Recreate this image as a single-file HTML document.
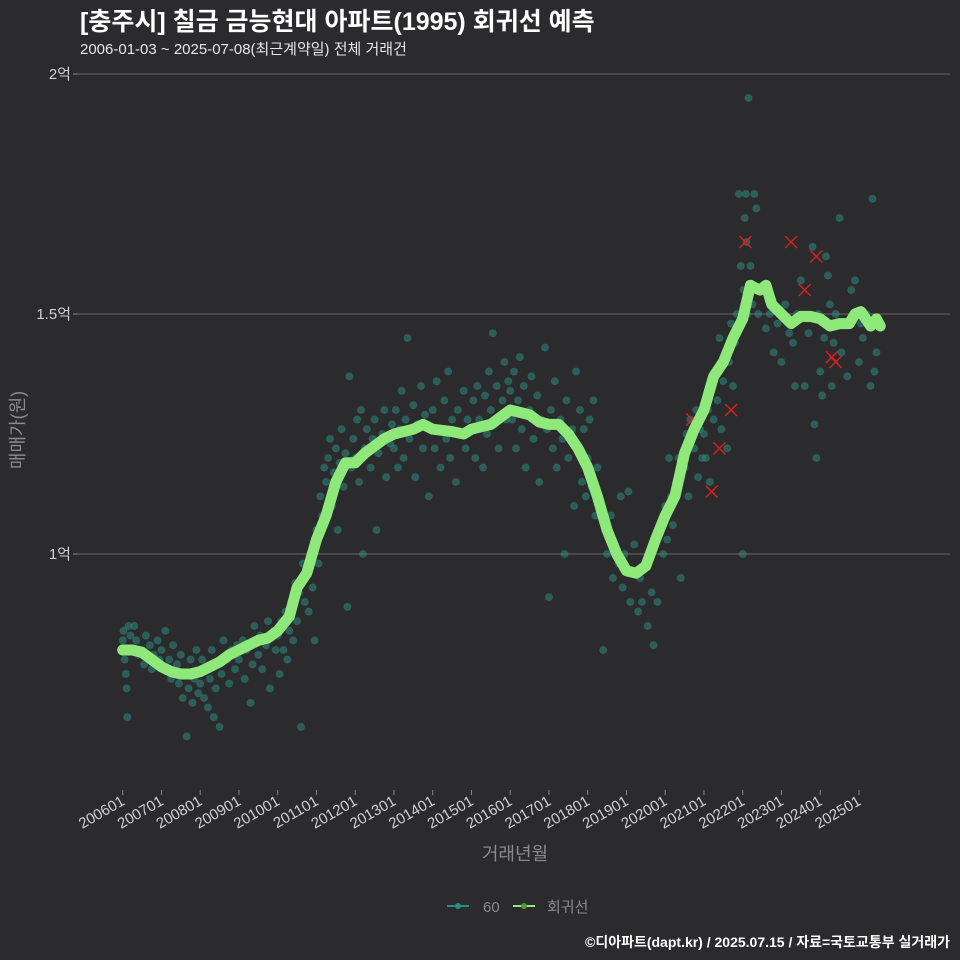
<!DOCTYPE html>
<html><head><meta charset="utf-8"><style>
html,body{margin:0;padding:0;background:#2b2b2d;}
svg{display:block;font-family:"Liberation Sans","Noto Sans CJK KR",sans-serif;}
</style></head><body>
<svg id="chart" width="960" height="960" viewBox="0 0 960 960" xmlns="http://www.w3.org/2000/svg">
<rect width="960" height="960" fill="#2b2b2d"/>
<text x="80" y="30" fill="#ffffff" font-size="25" font-weight="bold">[충주시] 칠금 금능현대 아파트(1995) 회귀선 예측</text>
<text x="80" y="54" fill="#e6e6e6" font-size="15">2006-01-03 ~ 2025-07-08(최근계약일) 전체 거래건</text>
<g id="grid"></g>
<g id="points"></g>
<g id="outliers"></g>
<g id="line"></g>
<g id="xaxis"></g>
<text x="515" y="860" fill="#8a8a8a" font-size="18" text-anchor="middle">거래년월</text>
<text transform="translate(24,430) rotate(-90)" fill="#8a8a8a" font-size="18" text-anchor="middle">매매가(원)</text>
<g>
<g>
<line x1="447" y1="906" x2="469" y2="906" stroke="#2a8a86" stroke-width="2"/>
<circle cx="458" cy="906" r="3" fill="#2a8a86"/>
<text x="483" y="912" fill="#8a8a8a" font-size="15">60</text></g>
<g>
<line x1="513" y1="906" x2="535" y2="906" stroke="#8ee87a" stroke-width="2"/>
<circle cx="524" cy="906" r="3" fill="#4d9a45"/>
<text x="547" y="912" fill="#8a8a8a" font-size="15">회귀선</text></g>
</g>
<text x="950" y="947" fill="#ffffff" font-size="14" font-weight="bold" text-anchor="end">©디아파트(dapt.kr) / 2025.07.15 / 자료=국토교통부 실거래가</text>
</svg>
<script>
const yTicks=[1,1.5,2];
const yTickLabels=["1억","1.5억","2억"];
const xTicks=[2006,2007,2008,2009,2010,2011,2012,2013,2014,2015,2016,2017,2018,2019,2020,2021,2022,2023,2024,2025];
const xTickLabels=["200601","200701","200801","200901","201001","201101","201201","201301","201401","201501","201601","201701","201801","201901","202001","202101","202201","202301","202401","202501"];
const lineT=[2006.0,2006.25,2006.5,2006.75,2007.0,2007.25,2007.5,2007.75,2008.0,2008.25,2008.5,2008.75,2009.0,2009.25,2009.5,2009.75,2010.0,2010.3,2010.5,2010.75,2011.0,2011.25,2011.5,2011.75,2012.0,2012.25,2012.5,2012.75,2013.0,2013.5,2013.75,2014.0,2014.5,2014.8,2015.0,2015.5,2015.75,2016.0,2016.5,2016.75,2017.0,2017.25,2017.5,2017.75,2018.0,2018.25,2018.5,2018.75,2019.0,2019.25,2019.5,2019.75,2020.0,2020.25,2020.5,2020.75,2021.0,2021.25,2021.5,2021.75,2022.0,2022.2,2022.3,2022.45,2022.6,2022.75,2023.0,2023.25,2023.5,2023.75,2024.0,2024.25,2024.5,2024.75,2024.9,2025.05,2025.3,2025.45,2025.55];
const lineV=[0.80,0.80,0.795,0.78,0.765,0.755,0.75,0.75,0.755,0.765,0.775,0.79,0.80,0.81,0.82,0.825,0.84,0.87,0.93,0.96,1.03,1.08,1.15,1.19,1.19,1.21,1.225,1.24,1.25,1.26,1.27,1.26,1.255,1.25,1.26,1.27,1.285,1.30,1.29,1.275,1.27,1.27,1.25,1.22,1.18,1.12,1.05,1.00,0.965,0.96,0.975,1.03,1.08,1.12,1.21,1.26,1.30,1.37,1.40,1.45,1.49,1.56,1.555,1.55,1.56,1.52,1.50,1.48,1.495,1.495,1.49,1.475,1.48,1.48,1.50,1.505,1.475,1.49,1.475];
const pointT=[2006.0,2006.02,2006.05,2006.08,2006.1,2006.12,2006.15,2006.2,2006.25,2006.3,2006.35,2006.4,2006.5,2006.55,2006.6,2006.7,2006.75,2006.8,2006.9,2006.95,
2007.0,2007.05,2007.1,2007.2,2007.25,2007.3,2007.4,2007.45,2007.5,2007.55,2007.6,2007.65,2007.7,2007.75,2007.8,2007.85,2007.9,2007.95,
2008.0,2008.05,2008.1,2008.15,2008.2,2008.25,2008.3,2008.35,2008.4,2008.45,2008.5,2008.55,2008.6,2008.7,2008.75,2008.8,2008.9,2008.95,
2009.0,2009.1,2009.15,2009.2,2009.3,2009.35,2009.4,2009.5,2009.55,2009.6,2009.7,2009.75,2009.8,2009.9,2009.95,
2010.0,2010.05,2010.1,2010.15,2010.2,2010.25,2010.3,2010.35,2010.4,2010.45,2010.5,2010.55,2010.6,2010.65,2010.7,2010.75,2010.8,2010.85,2010.9,2010.95,
2011.0,2011.05,2011.1,2011.15,2011.2,2011.25,2011.3,2011.35,2011.4,2011.45,2011.5,2011.55,2011.6,2011.65,2011.7,2011.75,2011.8,2011.85,2011.9,2011.95,
2012.0,2012.05,2012.1,2012.15,2012.2,2012.25,2012.3,2012.4,2012.45,2012.5,2012.55,2012.6,2012.7,2012.75,2012.8,2012.9,2012.95,
2013.0,2013.05,2013.1,2013.15,2013.2,2013.25,2013.3,2013.35,2013.4,2013.5,2013.55,2013.6,2013.7,2013.75,2013.8,2013.9,2013.95,
2014.0,2014.05,2014.1,2014.15,2014.2,2014.3,2014.35,2014.4,2014.45,2014.5,2014.6,2014.65,2014.7,2014.8,2014.85,2014.9,
2015.0,2015.05,2015.1,2015.15,2015.2,2015.3,2015.35,2015.4,2015.45,2015.5,2015.55,2015.6,2015.65,2015.7,2015.8,2015.85,2015.9,2015.95,
2016.0,2016.05,2016.1,2016.15,2016.2,2016.25,2016.3,2016.35,2016.4,2016.5,2016.55,2016.6,2016.7,2016.75,2016.8,2016.9,2016.95,
2017.0,2017.05,2017.1,2017.15,2017.2,2017.3,2017.35,2017.4,2017.45,2017.5,2017.6,2017.65,2017.7,2017.75,2017.8,2017.85,2017.9,2017.95,
2018.0,2018.05,2018.1,2018.15,2018.2,2018.25,2018.3,2018.4,2018.45,2018.5,2018.6,2018.65,2018.7,2018.8,2018.85,2018.9,2018.95,
2019.0,2019.05,2019.1,2019.15,2019.2,2019.3,2019.35,2019.4,2019.5,2019.55,2019.6,2019.65,2019.7,2019.75,2019.8,2019.9,2019.95,
2020.0,2020.05,2020.1,2020.15,2020.2,2020.3,2020.35,2020.4,2020.5,2020.55,2020.6,2020.65,2020.75,2020.8,2020.85,2020.9,2020.95,
2021.0,2021.05,2021.1,2021.15,2021.2,2021.25,2021.3,2021.35,2021.4,2021.45,2021.5,2021.55,2021.6,2021.65,2021.7,2021.75,2021.8,2021.85,2021.9,2021.95,
2022.0,2022.02,2022.05,2022.08,2022.1,2022.12,2022.15,2022.2,2022.25,2022.3,2022.35,2022.4,2022.5,2022.6,2022.7,2022.8,2022.9,
2023.0,2023.1,2023.2,2023.3,2023.35,2023.4,2023.5,2023.6,2023.65,2023.7,2023.8,2023.85,2023.9,2023.95,
2024.0,2024.05,2024.1,2024.15,2024.2,2024.25,2024.3,2024.35,2024.4,2024.5,2024.55,2024.6,2024.7,2024.8,2024.9,
2025.0,2025.05,2025.1,2025.2,2025.3,2025.35,2025.4,2025.45,2025.5];
const pointV=[0.82,0.84,0.78,0.75,0.72,0.66,0.85,0.83,0.80,0.85,0.82,0.79,0.80,0.77,0.83,0.81,0.76,0.79,0.82,0.78,
0.80,0.76,0.84,0.78,0.74,0.81,0.77,0.73,0.79,0.70,0.75,0.62,0.72,0.78,0.69,0.74,0.80,0.71,
0.73,0.78,0.70,0.76,0.68,0.74,0.80,0.66,0.72,0.77,0.64,0.75,0.82,0.78,0.73,0.80,0.76,0.81,
0.78,0.82,0.74,0.80,0.69,0.77,0.85,0.79,0.83,0.76,0.81,0.86,0.72,0.84,0.80,
0.83,0.75,0.86,0.80,0.88,0.78,0.84,0.90,0.82,0.94,0.86,0.92,0.64,0.98,0.90,0.96,0.88,1.00,0.93,0.82,
1.05,0.98,1.12,1.08,1.18,1.15,1.20,1.24,1.10,1.17,1.22,1.05,1.19,1.26,1.14,1.21,0.89,1.37,1.18,1.24,
1.20,1.28,1.15,1.30,1.00,1.22,1.26,1.18,1.24,1.28,1.05,1.21,1.25,1.30,1.16,1.23,1.27,
1.22,1.30,1.18,1.26,1.34,1.20,1.28,1.45,1.24,1.31,1.16,1.27,1.35,1.22,1.29,1.12,1.26,
1.30,1.22,1.36,1.26,1.18,1.32,1.24,1.38,1.20,1.28,1.15,1.30,1.25,1.34,1.22,1.28,
1.26,1.32,1.20,1.35,1.28,1.18,1.33,1.25,1.38,1.30,1.46,1.27,1.35,1.22,1.32,1.40,1.28,1.36,
1.34,1.28,1.38,1.22,1.32,1.41,1.26,1.35,1.18,1.30,1.37,1.24,1.33,1.15,1.28,1.43,1.26,
0.91,1.30,1.22,1.36,1.18,1.28,1.24,1.00,1.32,1.20,1.26,1.10,1.38,1.22,1.30,1.15,1.26,1.12,
1.20,1.28,1.14,1.32,1.08,1.18,1.10,0.80,1.05,1.00,1.08,0.95,1.02,0.98,1.12,0.93,1.00,
0.97,1.13,0.90,0.96,1.02,0.88,0.95,0.90,0.98,0.85,1.00,0.92,0.81,1.04,0.90,1.06,1.00,
1.10,1.03,1.20,1.12,1.06,1.15,1.20,0.95,1.18,1.25,1.12,1.28,1.22,1.30,1.16,1.26,1.20,
1.25,1.20,1.30,1.15,1.35,1.28,1.38,1.32,1.45,1.26,1.36,1.42,1.22,1.40,1.48,1.35,1.44,1.50,1.75,1.60,
1.00,1.55,1.70,1.75,1.65,1.50,1.95,1.60,1.52,1.75,1.72,1.50,1.55,1.47,1.50,1.42,1.48,
1.40,1.52,1.46,1.44,1.35,1.50,1.57,1.35,1.49,1.46,1.64,1.27,1.20,1.50,
1.38,1.33,1.45,1.62,1.58,1.52,1.35,1.44,1.50,1.70,1.42,1.48,1.37,1.55,1.57,
1.40,1.48,1.45,1.50,1.35,1.74,1.38,1.42,1.49];
const outT=[2020.7,2021.2,2021.4,2021.7,2022.07,2023.25,2023.9,2023.6,2024.3,2024.4];
const outV=[1.28,1.13,1.22,1.30,1.65,1.65,1.62,1.55,1.41,1.40];

const NS="http://www.w3.org/2000/svg";
function xS(t){return 122.7+(t-2006)*38.75;}
function yS(v){return 554-(v-1)*480;}
function mk(tag,attrs,parent){const e=document.createElementNS(NS,tag);for(const k in attrs)e.setAttribute(k,attrs[k]);parent.appendChild(e);return e;}

const grid=document.getElementById('grid');
yTicks.forEach((v,i)=>{
  const l=mk('line',{x1:77,x2:950,y1:yS(v),y2:yS(v),stroke:'#6a6a6a','stroke-width':1},grid);
  
  
  const tk=mk('line',{x1:73,x2:77,y1:yS(v),y2:yS(v),stroke:'#888','stroke-width':1},grid);
  
  
  const t=mk('text',{x:71,y:yS(v)+5,fill:'#d0d0d0','font-size':15,'text-anchor':'end'},grid);
  
  
  t.textContent=yTickLabels[i];
});
const pts=document.getElementById('points');
pointT.forEach((t,i)=>{
  const c=mk('circle',{cx:xS(t),cy:yS(pointV[i]),r:3.6,fill:'#2f9086','fill-opacity':0.5,stroke:'#2f9086','stroke-opacity':0.3,'stroke-width':1},pts);
  
  
});
const outs=document.getElementById('outliers');
outT.forEach((t,i)=>{
  const x=xS(t),y=yS(outV[i]);
  const p=mk('path',{d:`M${x-6},${y-6}L${x+6},${y+6}M${x-6},${y+6}L${x+6},${y-6}`,stroke:'#d42020','stroke-width':1.5},outs);
  
  
});
const lg=document.getElementById('line');
const pl=mk('polyline',{points:lineT.map((t,i)=>xS(t)+','+yS(lineV[i])).join(' '),fill:'none',stroke:'#8ee87a','stroke-width':11,'stroke-linecap':'round','stroke-linejoin':'round'},lg);


const xa=document.getElementById('xaxis');
xTicks.forEach((t,i)=>{
  const x=xS(t);
  const tk=mk('line',{x1:x,x2:x,y1:790,y2:795,stroke:'#888','stroke-width':1},xa);
  
  
  const tx=mk('text',{transform:`translate(${x+3},${804}) rotate(-30)`,fill:'#d0d0d0','font-size':15,'text-anchor':'end'},xa);
  
  
  tx.textContent=xTickLabels[i];
});
</script>
</body></html>
